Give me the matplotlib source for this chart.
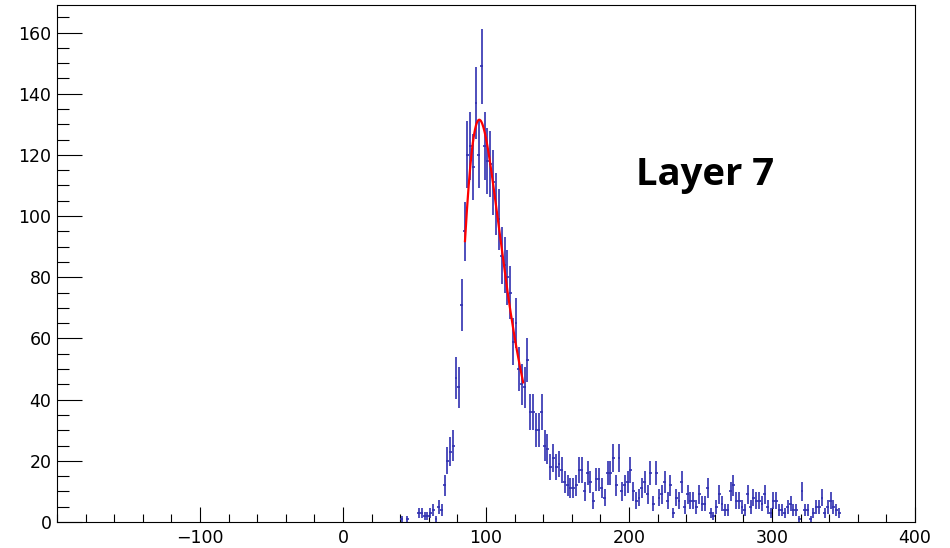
import numpy as np
import matplotlib
matplotlib.use("Agg")
import matplotlib.pyplot as plt
from matplotlib.ticker import MultipleLocator

# histogram: 2-unit bins, first bin centred at 41
BIN_WIDTH = 2.0
FIRST_CENTER = 41.0
counts = [
    1, 0, 1, 0, 0, 0, 3, 3, 2, 2,            # 41 - 59
    3, 4, 1, 5, 4, 12, 20, 23, 25, 47,       # 61 - 79
    44, 71, 95, 120, 123, 116, 137, 120, 149, 123,   # 81 - 99
    118, 117, 111, 104, 99, 87, 84, 80, 75, 59,      # 101 - 119
    65, 50, 45, 44, 53, 36, 36, 30, 30, 36,  # 121 - 139
    25, 24, 18, 21, 18, 19, 17, 13, 12, 11,  # 141 - 159
    11, 12, 17, 17, 10, 16, 13, 7, 14, 14,   # 161 - 179
    11, 8, 16, 16, 21, 12, 21, 10, 12, 13,   # 181 - 199
    17, 10, 7, 8, 11, 13, 9, 16, 6, 16,      # 201 - 219
    8, 9, 13, 7, 12, 3, 8, 7, 13, 5,         # 221 - 239
    9, 7, 7, 5, 9, 6, 6, 11, 3, 2,           # 241 - 259
    5, 9, 6, 4, 4, 10, 12, 7, 7, 5,          # 261 - 279
    4, 9, 5, 8, 7, 7, 6, 9, 5, 3,            # 281 - 299
    7, 7, 4, 4, 3, 5, 6, 4, 4, 1,            # 301 - 319
    10, 4, 4, 1, 3, 5, 5, 8, 3, 5,           # 321 - 339
    7, 5, 4, 3,                              # 341 - 347
]

# Landau-like (Moyal) fit result
fit_amp = 131.5
fit_mpv = 95.3
fit_sigma = 10.0
fit_lo, fit_hi = 85.3, 126.0

label_text = "Layer 7"

x_ticks = [-100, 0, 100, 200, 300, 400]
y_ticks = [0, 20, 40, 60, 80, 100, 120, 140, 160]

plt.rcParams["font.family"] = ["DejaVu Sans"]

counts = np.array(counts, dtype=float)
centers = FIRST_CENTER + BIN_WIDTH * np.arange(len(counts))
nz = counts > 0

fig = plt.figure(figsize=(9.5, 5.48), dpi=100)
ax = fig.add_axes([57 / 950, 26 / 548, 858 / 950, 517 / 548])

ax.errorbar(centers[nz], counts[nz], yerr=np.sqrt(counts[nz]),
            xerr=BIN_WIDTH / 2, fmt="none", ecolor="#3030b0",
            elinewidth=1.2, capsize=0)

xf = np.linspace(fit_lo, fit_hi, 300)
lam = (xf - fit_mpv) / fit_sigma
yf = fit_amp * np.exp(-0.5 * (lam + np.exp(-lam) - 1.0))
ax.plot(xf, yf, color="red", linewidth=1.6)

ax.text(205, 110, label_text, fontfamily="Open Sans", fontweight="bold",
        fontsize=27.5, ha="left", va="baseline", color="black")

ax.set_xlim(-200, 400)
ax.set_ylim(0, 169)
ax.set_xticks(x_ticks)
ax.set_yticks(y_ticks)
ax.xaxis.set_minor_locator(MultipleLocator(20))
ax.yaxis.set_minor_locator(MultipleLocator(5))

ax.tick_params(axis="x", which="major", direction="in", length=10.8, width=0.8,
               labelsize=12.5, pad=5, top=False)
ax.tick_params(axis="x", which="minor", direction="in", length=5.6, width=0.8, top=False)
ax.tick_params(axis="y", which="major", direction="in", length=18, width=0.8,
               labelsize=12.5, pad=4, right=False)
ax.tick_params(axis="y", which="minor", direction="in", length=8.6, width=0.8, right=False)

for sp in ax.spines.values():
    sp.set_linewidth(0.8)
    sp.set_color("black")

fig.savefig("out.png", dpi=100)
